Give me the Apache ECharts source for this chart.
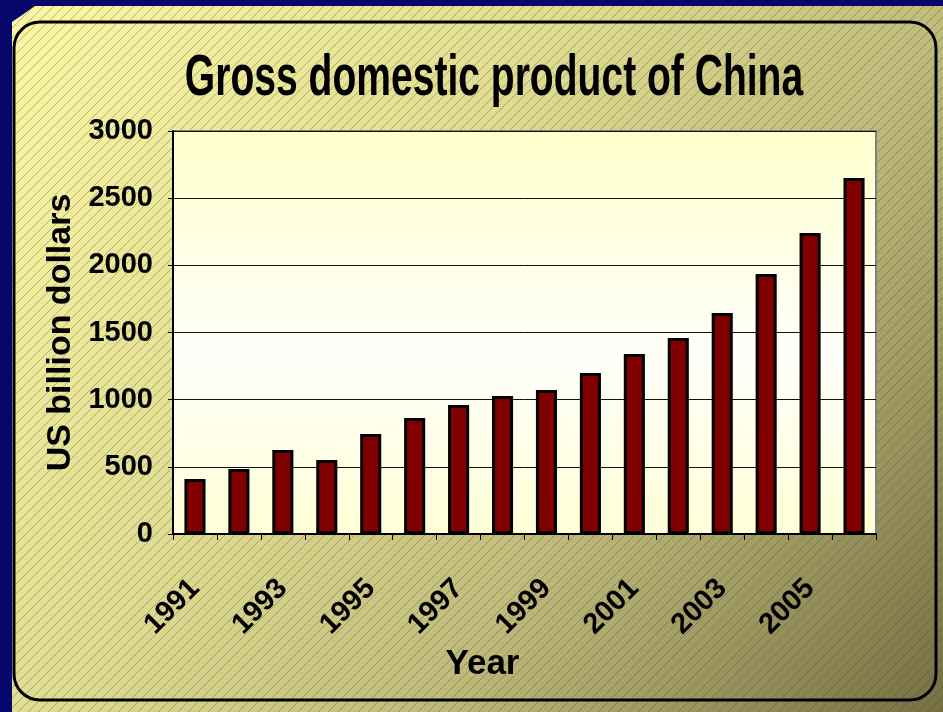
<!DOCTYPE html>
<html>
<head>
<meta charset="utf-8">
<script src="https://cdn.jsdelivr.net/npm/echarts@6/dist/echarts.min.js"></script>
<style>
    html, body { margin: 0; padding: 0; background: #06066b; }
    #chart { width: 943px; height: 712px; }
</style>
</head>
<body>
<div id="chart"></div>
<script>
var years = ['1991', '1992', '1993', '1994', '1995', '1996', '1997', '1998',
    '1999', '2000', '2001', '2002', '2003', '2004', '2005', '2006'];
var gdpValues = [410, 484, 625, 551, 745, 864, 961, 1028, 1072, 1199, 1340, 1459, 1646, 1936, 2241, 2651];
var yTicks = [0, 500, 1000, 1500, 2000, 2500, 3000];

// small tile with one diagonal line, repeated over the panel
function makeHatch() {
    var c = document.createElement('canvas');
    c.width = 10;
    c.height = 10;
    var ctx = c.getContext('2d');
    ctx.strokeStyle = 'rgba(70, 70, 30, 0.45)';
    ctx.lineWidth = 0.8;
    ctx.beginPath();
    ctx.moveTo(-1, 11); ctx.lineTo(11, -1);
    ctx.moveTo(-1, 1); ctx.lineTo(1, -1);
    ctx.moveTo(9, 11); ctx.lineTo(11, 9);
    ctx.stroke();
    return c;
}

var font = "'Liberation Sans', Arial, sans-serif";

var chart = echarts.init(document.getElementById('chart'), null, {
    renderer: 'canvas'
});

var chartOptions = {
    backgroundColor: '#06066b',
    animation: false,
    graphic: [
        {
            type: 'polygon',
            z: -20,
            silent: true,
            shape: { points: [[12, 22], [35, 6], [943, 6], [943, 712], [12, 712]] },
            style: {
                fill: new echarts.graphic.LinearGradient(0, 0, 1, 1, [
                    { offset: 0, color: '#fbf7a4' },
                    { offset: 0.4, color: '#dedA90' },
                    { offset: 0.65, color: '#bfba7a' },
                    { offset: 1, color: '#767044' }
                ])
            }
        },
        {
            type: 'polygon',
            z: -19,
            silent: true,
            shape: { points: [[12, 22], [35, 6], [943, 6], [943, 712], [12, 712]] },
            style: { fill: { image: makeHatch(), repeat: 'repeat' } }
        },
        {
            type: 'rect',
            z: -18,
            silent: true,
            shape: { x: 14, y: 22, width: 922, height: 678, r: 26 },
            style: { fill: null, stroke: '#000', lineWidth: 3 }
        },
        {
            type: 'text',
            z: 10,
            x: 494,
            y: 79,
            scaleX: 0.71,
            scaleY: 1.03,
            style: {
                text: 'Gross domestic product of China',
                font: 'bold 55px ' + font,
                fill: '#000',
                align: 'center',
                verticalAlign: 'middle'
            }
        }
    ],
    grid: {
        left: 173,
        top: 131,
        right: 67,
        bottom: 178,
        show: true,
        borderColor: '#808080',
        borderWidth: 2,
        backgroundColor: new echarts.graphic.LinearGradient(0, 0, 0, 1, [
            { offset: 0, color: '#ffffcc' },
            { offset: 0.55, color: '#fffffa' },
            { offset: 1, color: '#ffffd6' }
        ])
    },
    xAxis: {
        type: 'category',
        data: years,
        name: 'Year',
        nameLocation: 'middle',
        nameGap: 112,
        nameTextStyle: {
            fontFamily: font,
            fontWeight: 'bold',
            fontSize: 35,
            color: '#000',
            padding: [0, 84, 0, 0]
        },
        axisLine: { lineStyle: { color: '#000', width: 2 } },
        axisTick: { show: true, interval: 0, length: 6, lineStyle: { color: '#000', width: 1 } },
        axisLabel: {
            interval: 1,
            rotate: 45,
            margin: 50,
            fontFamily: font,
            fontWeight: 'bold',
            fontSize: 29,
            color: '#000'
        }
    },
    yAxis: {
        type: 'value',
        min: yTicks[0],
        max: yTicks[yTicks.length - 1],
        interval: 500,
        name: 'US billion dollars',
        nameLocation: 'middle',
        nameGap: 88,
        nameTextStyle: {
            fontFamily: font,
            fontWeight: 'bold',
            fontSize: 34,
            color: '#000'
        },
        axisLine: { show: true, lineStyle: { color: '#000', width: 2 } },
        axisTick: { show: true, length: 5, lineStyle: { color: '#000', width: 1 } },
        axisLabel: {
            margin: 20,
            fontFamily: font,
            fontWeight: 'bold',
            fontSize: 29,
            color: '#000',
            formatter: function(value) {
                return String(value);
            }
        },
        splitLine: { show: true, lineStyle: { color: '#111', width: 1 } }
    },
    series: [
        {
            type: 'bar',
            data: gdpValues,
            barWidth: '48%',
            silent: true,
            itemStyle: {
                color: '#800000',
                borderColor: '#000',
                borderWidth: 3
            }
        }
    ]
};

chart.setOption(chartOptions);
</script>
</body>
</html>
